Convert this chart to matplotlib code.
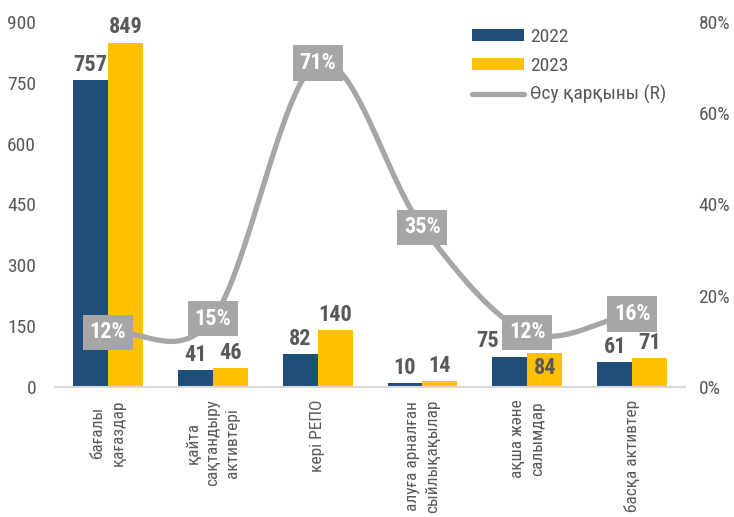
import numpy as np
import matplotlib.pyplot as plt
from matplotlib.patches import Patch
from matplotlib.lines import Line2D
from matplotlib import font_manager

installed = {f.name for f in font_manager.fontManager.ttflist}
fams = [f for f in ['Roboto Condensed', 'PT Sans Narrow'] if f in installed]
plt.rcParams['font.family'] = fams + ['DejaVu Sans']

categories = ['бағалы\nқағаздар', 'қайта\nсақтандыру\nактивтері', 'кері РЕПО',
              'алуға арналған\nсыйлықақылар', 'ақша және\nсалымдар', 'басқа активтер']
values_2022 = [757, 41, 82, 10, 75, 61]
values_2023 = [849, 46, 140, 14, 84, 71]
growth = [12, 15, 71, 35, 12, 16]  # %

blue = '#1F4E79'
gold = '#FFC000'
grey = '#A6A6A6'
txt = '#595959'


def catmull_rom(xs, ys, n=40):
    # smooth curve through the points (like Excel "smoothed line")
    px = np.concatenate([[2 * xs[0] - xs[1]], xs, [2 * xs[-1] - xs[-2]]])
    py = np.concatenate([[2 * ys[0] - ys[1]], ys, [2 * ys[-1] - ys[-2]]])
    ox, oy = [], []
    t = np.linspace(0, 1, n)
    for i in range(1, len(px) - 2):
        for p, out in ((px, ox), (py, oy)):
            p0, p1, p2, p3 = p[i - 1], p[i], p[i + 1], p[i + 2]
            out.extend(0.5 * (2 * p1 + (-p0 + p2) * t
                              + (2 * p0 - 5 * p1 + 4 * p2 - p3) * t ** 2
                              + (-p0 + 3 * p1 - 3 * p2 + p3) * t ** 3))
    return np.array(ox), np.array(oy)


fig = plt.figure(figsize=(7.34, 5.17), dpi=100)
ax = fig.add_axes([0.0756, 0.2515, 0.857, 0.706])
x = np.arange(len(categories))
w = 0.333

ax.bar(x - w / 2, values_2022, w, color=blue, zorder=2)
ax.bar(x + w / 2, values_2023, w, color=gold, zorder=2)

ax.set_xlim(-0.5, len(categories) - 0.5)
ax.set_ylim(0, 900)
ax.set_yticks(np.arange(0, 901, 150))
ax.set_xticks(x)
ax.set_xticklabels(categories, rotation=90, ha='center', va='top',
                   multialignment='center', fontsize=12.5, color=txt, linespacing=1.4)
ax.tick_params(axis='x', length=0, pad=9)
ax.tick_params(axis='y', length=0, pad=14, labelsize=14, labelcolor=txt)
for s in ['top', 'right', 'left']:
    ax.spines[s].set_visible(False)
ax.spines['bottom'].set_color('#D9D9D9')
ax.spines['bottom'].set_linewidth(1.5)

# value labels
for i, (v1, v2) in enumerate(zip(values_2022, values_2023)):
    dx1 = -16 if i == 4 else 0
    ax.annotate(str(v1), (x[i] - w / 2, v1), xytext=(dx1, 3), textcoords='offset points',
                ha='center', va='bottom', fontsize=16, fontweight='bold', color=txt, zorder=5)
    if i == 4:
        ax.annotate(str(v2), (x[i] + w / 2, v2), xytext=(0, -3), textcoords='offset points',
                    ha='center', va='top', fontsize=16, fontweight='bold', color=txt, zorder=5)
    else:
        ax.annotate(str(v2), (x[i] + w / 2, v2), xytext=(0, 3), textcoords='offset points',
                    ha='center', va='bottom', fontsize=16, fontweight='bold', color=txt, zorder=5)

ax2 = ax.twinx()
ax2.set_ylim(0, 80)
ax2.set_yticks(np.arange(0, 81, 20))
ax2.set_yticklabels([f'{v}%' for v in range(0, 81, 20)])
ax2.tick_params(axis='y', length=0, pad=10, labelsize=14, labelcolor=txt)
for s in ax2.spines.values():
    s.set_visible(False)

sx, sy = catmull_rom(x.astype(float), np.array(growth, dtype=float))
ax2.plot(sx, sy, color=grey, lw=3.8, solid_capstyle='round', zorder=3)
for i, g in enumerate(growth):
    ax2.text(x[i], g, f'{g}%', ha='center', va='center', fontsize=16, fontweight='bold',
             color='white', zorder=6,
             bbox=dict(boxstyle='square,pad=0.3', facecolor=grey, edgecolor='none'))

handles = [Patch(facecolor=blue), Patch(facecolor=gold),
           Line2D([0], [0], color=grey, lw=3.8, solid_capstyle='round')]
fig.legend(handles, ['2022', '2023', 'Өсу қарқыны (R)'], loc='upper left',
           bbox_to_anchor=(0.619, 0.98), frameon=False, fontsize=14,
           labelcolor=txt, handlelength=2.7, handleheight=0.6,
           handletextpad=0.3, labelspacing=0.55)

fig.savefig('out.png', dpi=100)
